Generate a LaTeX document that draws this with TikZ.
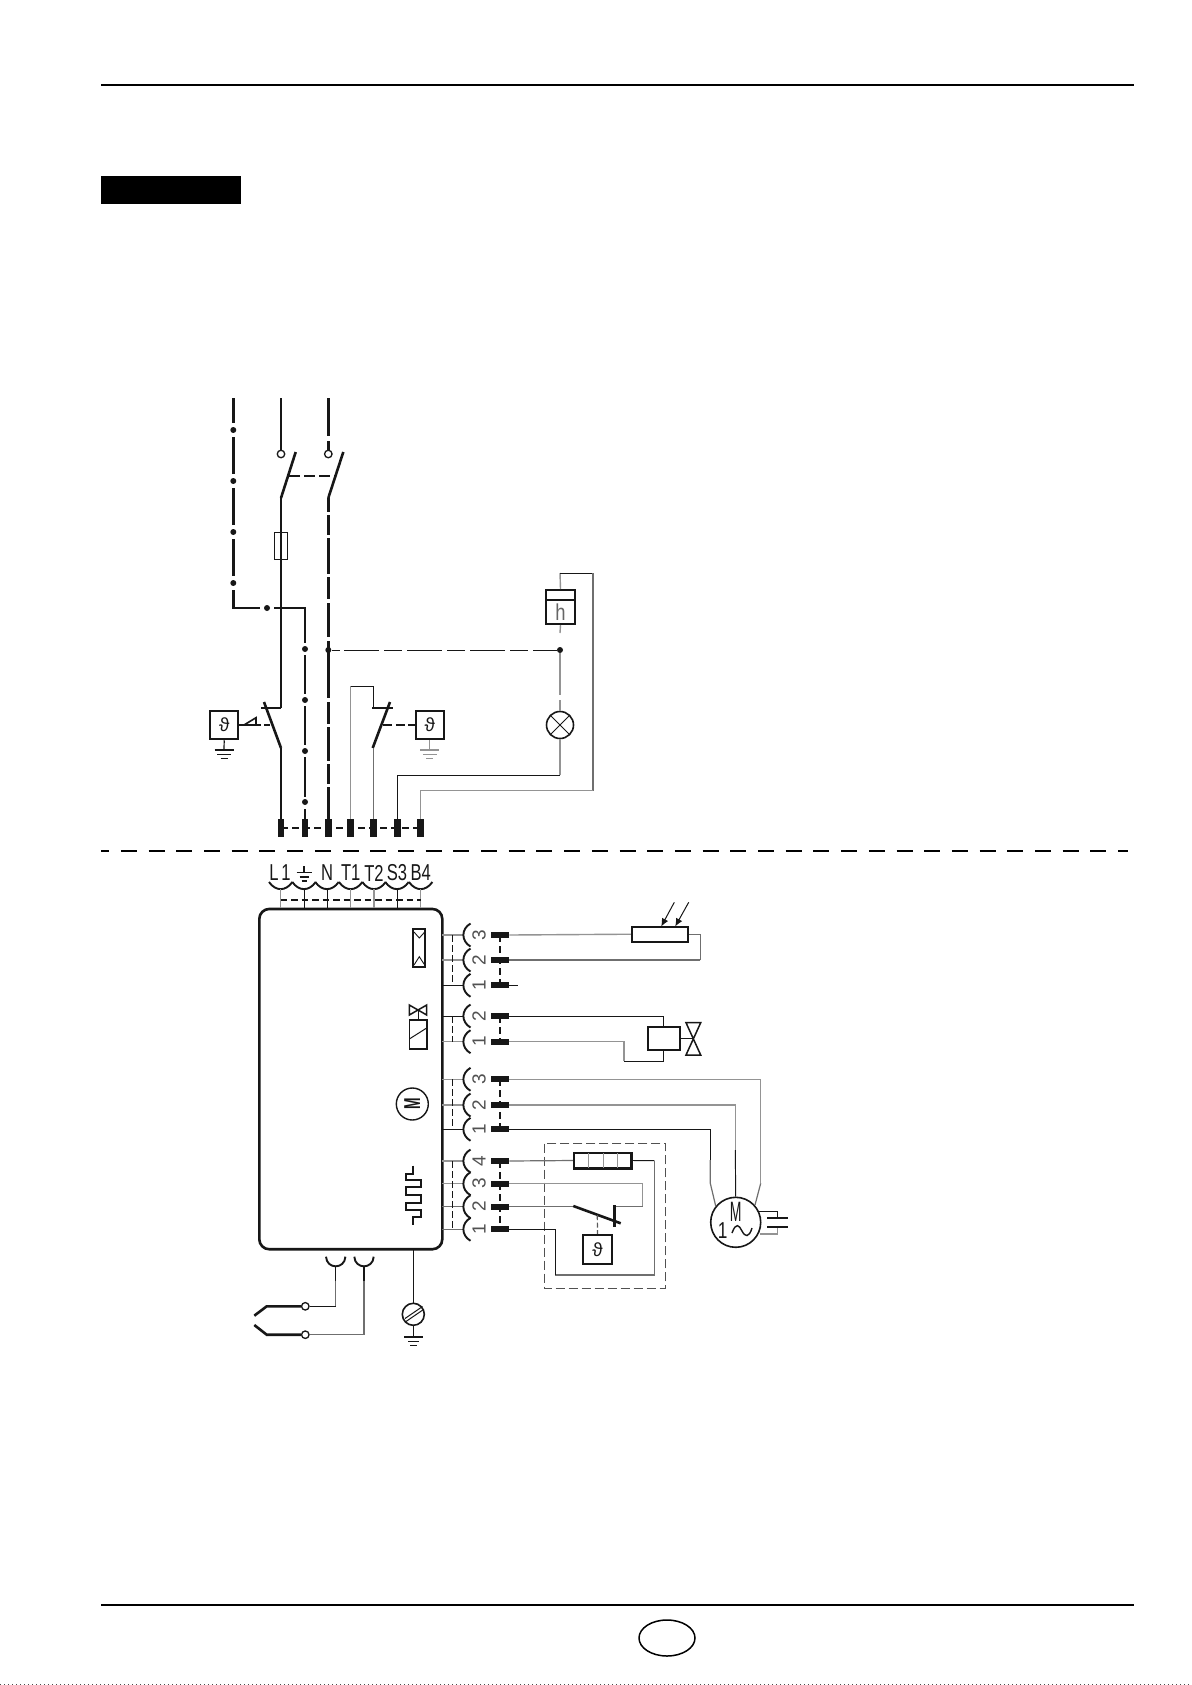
\documentclass[tikz,border=0pt]{standalone}
\usepackage{fontspec}
\setmainfont{Liberation Sans}
\usetikzlibrary{arrows.meta,calc,shapes.geometric}
\newcommand{\thetasym}{{\fontsize{19}{19}\selectfont ϑ}}
\newcommand{\cond}[2][.72]{\scalebox{#1}[1]{#2}}
\definecolor{wgrey}{gray}{0.58}
\definecolor{ink}{gray}{0.09}
\tikzset{
  blk/.style={line width=.95pt,draw=ink},
  gw/.style={line width=1.4pt,draw=wgrey},
  dkg/.style={line width=1.2pt,draw=wgrey!75!black},
  hv/.style={line width=2.6pt,draw=ink},
  med/.style={line width=1.9pt,draw=ink},
  dotn/.style={circle,fill=ink,inner sep=0pt,minimum size=6pt},
  ring/.style={circle,draw=ink,line width=1.3pt,fill=white,inner sep=0pt,minimum size=7.5pt},
  symbox/.style={draw=ink,line width=2pt,fill=white,inner sep=0pt},
  thermo/.style={symbox,minimum width=28.5pt,minimum height=28.5pt,text=ink},
  vbar/.style={fill=ink,inner sep=0pt,minimum width=6.8pt,minimum height=18pt},
  hbar/.style={fill=ink,inner sep=0pt,minimum width=18.5pt,minimum height=6pt},
  linkd/.style={line width=2pt,draw=ink,dash pattern=on 7pt off 4pt},
  lbl/.style={inner sep=0pt,text=ink,font=\fontsize{23}{23}\selectfont},
  numl/.style={inner sep=0pt,rotate=90,text=ink!75,font=\fontsize{19}{19}\selectfont},
  sock/.style={line width=1.9pt,draw=ink}
}
\begin{document}
\begin{tikzpicture}[x=1pt,y=-1pt]
\useasboundingbox (0,0) rectangle (1191,1685);
\fill[white] (0,0) rectangle (1191,1685);
% page furniture
\draw[line width=2pt,black] (101,85) -- (1134,85);
\draw[line width=2pt,black] (101,1605) -- (1134,1605);
\fill[black] (101,176) rectangle (241,204);
\node[draw=black,line width=1.5pt,ellipse,minimum width=56pt,minimum height=36pt,inner sep=0pt] (pagemark) at (667,1638) {};
\draw[line width=1pt,black!70,dash pattern=on 1pt off 3pt] (0,1684.5) -- (1191,1684.5);
\draw[line width=2.2pt,black,dash pattern=on 16pt off 11.7pt,dash phase=7.8pt] (101,851) -- (1128,851);

% terminals of the upper part
\foreach \n/\x in {ta/281,tb/305,tc/328.3,td/350.7,te/373.3,tf/397.3,tg/420.7}{
  \node[vbar] (\n) at (\x,828) {};
}
\draw[linkd] (ta.center) -- (tg.center);

% earth line
\foreach \a/\b in {398/423,437/474,488/525,539/576}{\draw[hv] (233.3,\a) -- (233.3,\b);}
\foreach \n/\y in {e1/430,e2/481,e3/532,e4/583}{\node[dotn] (\n) at (233.3,\y) {};}
\node[dotn] (e5) at (267,608) {};
\draw[hv] (233.3,590) |- (260,608);
\draw[hv] (274,608) -| (305,643);
\foreach \n/\y in {e6/649,e7/700,e8/751,e9/802}{\node[dotn] (\n) at (305,\y) {};}
\foreach \a/\b in {655/694,706/745,757/797}{\draw[hv] (305,\a) -- (305,\b);}
\draw[hv] (305,809) -- (tb.north);

% phase line
\node[ring] (r1) at (281,454) {};
\draw[hv] (281,398) -- (r1.north);
\draw[hv] (281,498) -- (295.7,452);
\draw[hv] (281,498) -- (ta.north |- 708,708);
\node[draw=ink,line width=.9pt,inner sep=0pt,minimum width=13.5pt,minimum height=27pt] (fuse) at (281,545.5) {};
\draw[hv] (281,530) -- (281,561);
\draw[hv] (261,708) -- (281,708);
\draw[hv] (264,702) -- (281,748);
\draw[hv] (281,748) -- (ta.north);

% neutral line
\node[ring] (r2) at (328.3,454) {};
\foreach \a/\b in {398/436,441/451,498/512,515/535,538/574,577/599,603/637,641/698,702/724,727/761,764/784,787/819}{
  \draw[hv] (328.3,\a) -- (328.3,\b);}
\draw[hv] (328.3,498) -- (343.3,452);
\draw[line width=1.2pt,draw=ink,dash pattern=on 11pt off 4pt] (289,476) -- (336,476);
\node[dotn] (njun) at (328.3,650) {};

% safety contact
\draw[gw] (td.north) -- (350.7,686.3);
\draw[blk] (350.7,686.3) -| (373.3,708);
\draw[hv] (372.3,708) -- (392.7,708);
\draw[hv] (390,702) -- (372.7,748);
\draw[dkg,line width=1.4pt] (373.3,748) -- (te.north);

% thermostats
\node[thermo] (th1) at (224.2,725) {\thetasym};
\node[thermo] (th2) at (429.8,725) {\thetasym};
\draw[line width=1.5pt,draw=ink,dash pattern=on 9pt off 3.5pt] (th1.east) -- (270,725);
\draw[line width=1.5pt,draw=ink,dash pattern=on 9pt off 3.5pt] (383.3,725) -- (th2.west);
\draw[line width=1.6pt,draw=ink,fill=white] (244,725) -- (256,717.7) -- (256,725) -- cycle;
\foreach \b/\c/\x in {th1/ink/224,th2/wgrey/429.8}{
  \draw[line width=1.2pt,draw=\c] (\b.south) -- (\x,750);
  \draw[line width=1.2pt,draw=\c] (\x-9.5,750) -- (\x+9.5,750);
  \draw[line width=1.2pt,draw=\c] (\x-7,754.3) -- (\x+7,754.3);
  \draw[line width=1.2pt,draw=\c] (\x-3.5,758.5) -- (\x+3.5,758.5);
}

% hour counter and lamp
\node[symbox,minimum width=28.4pt,minimum height=34pt] (hc) at (560.5,607) {};
\node[inner sep=0pt,text=black!60,font=\fontsize{23}{23}\selectfont] (hl) at (560.5,612.5) {\cond[.8]{h}};
\draw[line width=2pt,draw=ink] (546.5,600) -- (574.5,600);
\node[circle,draw=ink,line width=1.6pt,fill=white,minimum size=27pt,inner sep=0pt] (lamp) at (560,725) {};
\draw[line width=1pt,draw=ink] (lamp.north west) -- (lamp.south east) (lamp.north east) -- (lamp.south west);
\node[dotn] (hjun) at (560,650) {};
\draw[gw] (hc.south) -- (560,633);
\draw[gw] (hjun.south) -- (560,695);
\draw[gw] (560,700) -- (lamp.north);
\draw[line width=.95pt,draw=ink,dash pattern=on 35pt off 5pt on 18pt off 5pt] (344,650) -- (hjun.west);
\draw[blk] (njun.east) -- (340,650);
\draw[gw] (hc.north) -- (560,573);
\draw[blk] (560,573) -- (593,573);
\draw[dkg] (593,573) -- (593,790.7);
\draw[gw] (593,790.7) -| (tg.north);
\draw[gw] (lamp.south) -- (560,775);
\draw[blk] (560,775) -| (tf.north);

% labels
\node[lbl] (lL) at (280,873) {\cond{L\,1}};
\node[lbl] (lN) at (327,873) {\cond{N}};
\node[lbl] (lT1) at (350.7,873) {\cond{T1}};
\node[lbl] (lT2) at (374,873) {\cond{T2}};
\node[lbl] (lS3) at (397,873) {\cond{S3}};
\node[lbl] (lB4) at (420.7,873) {\cond{B4}};
\draw[line width=1.2pt,draw=ink] (304,866) -- (304,872.7) (296.7,872.7) -- (312.3,872.7) (299.5,877) -- (309,877) (301.5,881) -- (306.5,881);

% control box
\node[draw=ink,line width=2.6pt,rounded corners=10pt,inner sep=0pt,minimum width=183pt,minimum height=340.3pt] (box) at (350.8,1079.1) {};

% plug row on top of the box
\foreach \n/\x/\s in {ca/280.7/gw,cb/304/blk,cc/327/blk,cd/350.7/gw,ce/374/gw,cf/397/blk,cg/420.7/gw}{
  \draw[sock] (\x-11.7,882) .. controls (\x-5,891.5) and (\x+5,891.5) .. (\x+11.7,882);
  \coordinate (\n) at (\x,889);
  \draw[\s] (\n) -- (\n |- box.north);
}
\draw[line width=1.6pt,draw=ink,dash pattern=on 6.5pt off 4pt] (ca |- 0,900) -- (cg |- 0,900);

% right hand plugs
\foreach \n/\y/\l/\c in {a/935/3/gw,b/960/2/gw,c/985.3/1/blk,d/1016/2/blk,e/1041.7/1/gw,f/1079.3/3/gw,g/1105/2/gw,h/1129.3/1/blk,i/1161/4/gw,j/1183.7/3/gw,k/1206.7/2/dkg,l/1229.3/1/dkg}{
  \draw[\c] (442.3,\y) -- (463,\y);
  \draw[sock] (470.5,\y-11.5) .. controls (461,\y-6) and (461,\y+6) .. (470.5,\y+11.5);
  \node[numl] (n\n) at (479,\y) {\l};
}
\foreach \a/\b in {935/985.3,1016/1041.7,1079.3/1129.3,1161/1229.3}{
  \draw[line width=1.5pt,draw=ink,dash pattern=on 6.5pt off 3.5pt] (452.7,\a) -- (452.7,\b);
  \draw[line width=1.8pt,draw=ink,dash pattern=on 7pt off 4pt] (500,\a) -- (500,\b);
}
\foreach \n/\y in {a/935,b/960,c/985.3,d/1016,e/1041.7,f/1079.3,g/1105,h/1129.3,i/1161,j/1183.7,k/1206.7,l/1229.3}{
  \node[hbar] (p\n) at (500,\y) {};
}

% flame sensor
\node[symbox,minimum height=15pt,line width=1.9pt,minimum width=56.6pt] (sens) at (660,934.2) {};
\draw[gw] (pa.east) -- (sens.west);
\draw[dkg] (sens.east) -| (700.3,960);
\draw[dkg] (700.3,960) -- (pb.east);
\coordinate (ar1) at (674.3,902.3);
\coordinate (ar2) at (688.7,902.3);
\draw[line width=1pt,draw=ink,-{Latex[length=8pt,width=7pt]}] (ar1) -- (661.2,926.5);
\draw[line width=1pt,draw=ink,-{Latex[length=8pt,width=7pt]}] (ar2) -- (675.2,926.5);
\draw[blk] (pc.east) -- (517.7,985.3);

% valve
\node[symbox,minimum width=32.3pt,minimum height=22.7pt] (coil) at (663.8,1038.6) {};
\draw[blk] (pd.east) -| (coil.north);
\draw[blk] (coil.south) |- (624,1061.3);
\draw[gw] (624,1061.3) |- (pe.east);
\draw[line width=1.6pt,draw=ink] (coil.east) -- (693.3,1038.6);
\draw[line width=1.5pt,draw=ink] (686,1022.7) -- (700.7,1022.7) -- (686,1055) -- (700.7,1055) -- cycle;

% motor
\node[circle,draw=ink,line width=1.6pt,inner sep=0pt,minimum size=50pt] (mot) at (735.7,1222.3) {};
\node[inner sep=0pt,text=ink,font=\fontsize{28}{28}\selectfont] (mm) at (735.7,1212) {\cond[.5]{M}};
\node[inner sep=0pt,text=ink,font=\fontsize{23}{23}\selectfont] (m1) at (722.7,1231) {\cond[.75]{1}};
\draw[line width=1.4pt,draw=ink] (732,1233) .. controls (736,1222) and (739,1225) .. (742,1231) .. controls (745,1237) and (749,1238) .. (752,1228);
\draw[gw] (pf.east) -| (760.7,1183.3);
\draw[dkg] (760.7,1183.3) -- (755,1205);
\draw[gw] (pg.east) -| (735.3,1150);
\draw[blk] (735.3,1150) -- (mot.north);
\draw[blk] (ph.east) -| (710.3,1160);
\draw[dkg] (710.3,1160) -- (710.3,1183.3) -- (715.7,1206);
\draw[blk] (758.3,1211.7) -| (777.7,1218.3);
\draw[gw] (777.7,1226.7) |- (760,1234);
\coordinate (capa) at (777.7,1218.3);
\coordinate (capb) at (777.7,1226.7);
\draw[line width=2.2pt,draw=ink] (767.3,1218.3) -- (788.3,1218.3) (767.3,1226.7) -- (788.3,1226.7);

% preheater assembly
\draw[line width=1.2pt,draw=wgrey!55!black,dash pattern=on 9pt off 4pt] (544.3,1143.7) rectangle (665.7,1288.3);
\node[symbox,line width=2.4pt,minimum width=57.7pt,minimum height=15.6pt] (heat) at (602.8,1160.5) {};
\foreach \x in {588.7,603.3,617.7}{\draw[line width=1.2pt,draw=wgrey] (\x,1153) -- (\x,1168);}
\draw[dkg] (pi.east) -- (heat.west);
\draw[blk] (heat.east) -- (654.3,1160.7);
\draw[dkg] (654.3,1160.7) |- (555.3,1275);
\draw[blk] (555.3,1275) |- (pl.east);
\draw[gw] (pj.east) -| (642.7,1206.7);
\draw[dkg] (642.7,1206.7) -- (614.3,1206.7);
\draw[dkg] (pk.east) -- (573.3,1206.7);
\draw[hv] (614.3,1205) -- (614.3,1226.7);
\draw[hv] (573.3,1206) -- (620.7,1223.3);
\node[thermo,minimum width=29.6pt,minimum height=29.3pt] (th3) at (597.5,1249.6) {\thetasym};
\draw[line width=1.2pt,draw=wgrey!60!black,dash pattern=on 5pt off 2.5pt] (597.3,1215) -- (th3.north);

% symbols inside the control box
\node[draw=ink,line width=1.7pt,inner sep=0pt,minimum width=12pt,minimum height=37.4pt] (s1) at (419.3,948) {};
\draw[line width=.9pt,draw=ink] (414,932) -- (419.3,938) -- (424.7,932) (414,965) -- (419.3,956.7) -- (424.7,965);
\draw[line width=1.5pt,draw=ink] (409.3,1005) -- (426.7,1015) -- (426.7,1005) -- (409.3,1015) -- cycle;
\node[draw=ink,line width=1.6pt,inner sep=0pt,minimum width=17.4pt,minimum height=29pt] (s2) at (418,1034.5) {};
\draw[line width=1pt,draw=ink] (s2.north) -- (418,1010);
\draw[line width=1pt,draw=ink] (409.3,1039) -- (426.7,1028);
\node[circle,draw=ink,line width=1.4pt,inner sep=0pt,minimum size=32pt] (s3) at (412.3,1104) {};
\node[inner sep=0pt,rotate=90,text=ink,font=\bfseries\fontsize{23}{23}\selectfont] (s3m) at (412.3,1104) {\cond[.6]{M}};
\draw[line width=1.8pt,draw=ink] (413.3,1165.7) -- (413.3,1174) -- (406,1174) -- (406,1180) -- (421.3,1180) -- (421.3,1187.3) -- (406,1187.3) -- (406,1195) -- (421.3,1195) -- (421.3,1202.7) -- (406,1202.7) -- (406,1210) -- (421.3,1210) -- (421.3,1217.3) -- (413.3,1217.3) -- (413.3,1225.3);

% lower plugs and sensor
\foreach \n/\x/\y/\c in {u/335.7/1306.3/blk,v/364/1334.7/dkg}{
  \draw[sock] (\x-9.7,1256.7) .. controls (\x-9,1269.5) and (\x+9,1269.5) .. (\x+9.7,1256.7);
  \draw[line width=1.4pt,draw=ink] (\x,1266) -- (\x,1280.7);
  \draw[dkg] (\x,1280.7) -- (\x,\y);
  \node[ring] (\n) at (305.3,\y) {};
  \draw[\c] (\x,\y) -- (\n.east);
}
\draw[hv] (u.west) -- (266.7,1306.3) -- (254.3,1315.7);
\draw[hv] (v.west) -- (266.7,1334.7) -- (254.3,1325);

% protective earth
\node[circle,draw=ink,line width=1.6pt,inner sep=0pt,minimum size=22pt] (pe) at (413.3,1314.3) {};
\draw[blk] (413.3,1249.3) -- (pe.north);
\draw[line width=1pt,draw=ink] (405,1318.5) -- (422.5,1306.5) (406,1321.5) -- (423.5,1309.5);
\draw[blk] (pe.south) -- (413.3,1336.7);
\draw[line width=2pt,draw=ink] (404,1336.7) -- (422.7,1336.7);
\draw[line width=1.2pt,draw=ink] (408,1341.2) -- (419,1341.2) (410,1345.7) -- (417,1345.7);
\end{tikzpicture}
\end{document}
